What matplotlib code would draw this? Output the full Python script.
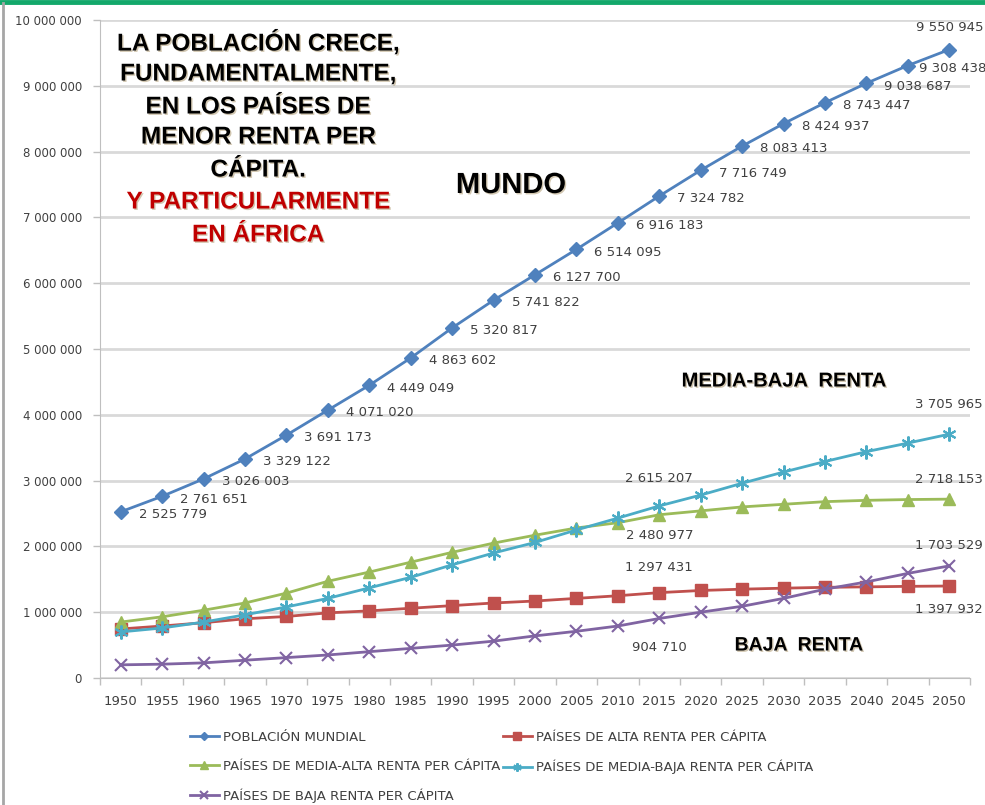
import matplotlib.pyplot as plt
import numpy as np
from matplotlib.lines import Line2D
from matplotlib import patheffects as pe

# Datos (miles de personas)
anios = ["1950", "1955", "1960", "1965", "1970", "1975", "1980", "1985", "1990", "1995", "2000",
         "2005", "2010", "2015", "2020", "2025", "2030", "2035", "2040", "2045", "2050"]
mundo = [2525779, 2761651, 3026003, 3329122, 3691173, 4071020, 4449049, 4863602, 5320817, 5741822,
         6127700, 6514095, 6916183, 7324782, 7716749, 8083413, 8424937, 8743447, 9038687, 9308438, 9550945]
alta = [745000, 790000, 840000, 900000, 935000, 990000, 1020000, 1060000, 1100000, 1140000,
        1170000, 1210000, 1250000, 1297431, 1330000, 1350000, 1365000, 1378000, 1385000, 1393000, 1397932]
media_alta = [850000, 930000, 1030000, 1140000, 1290000, 1470000, 1610000, 1760000, 1910000, 2050000,
              2170000, 2280000, 2360000, 2480977, 2540000, 2600000, 2640000, 2680000, 2700000, 2712000, 2718153]
media_baja = [700000, 760000, 850000, 960000, 1080000, 1210000, 1370000, 1530000, 1720000, 1900000,
              2060000, 2250000, 2430000, 2615207, 2780000, 2960000, 3130000, 3290000, 3440000, 3570000, 3705965]
baja = [200000, 210000, 230000, 270000, 310000, 350000, 400000, 450000, 500000, 560000,
        640000, 710000, 790000, 904710, 1000000, 1090000, 1210000, 1350000, 1460000, 1590000, 1703529]

nombres = ["POBLACIÓN MUNDIAL", "PAÍSES DE ALTA RENTA PER CÁPITA", "PAÍSES DE MEDIA-ALTA RENTA PER CÁPITA",
           "PAÍSES DE MEDIA-BAJA RENTA PER CÁPITA", "PAÍSES DE BAJA RENTA PER CÁPITA"]

fuente = ['DejaVu Sans']
gris = '#404040'

def miles(v):
    return f"{v:,.0f}".replace(",", " ")

fig = plt.figure(figsize=(9.85, 8.05), dpi=100)
ax = fig.add_axes([100/985, 1 - 678/805, 870/985, 658/805])
x = np.arange(len(anios))

l1, = ax.plot(x, mundo, color='#4F81BD', lw=2, marker='D', ms=7)
l2, = ax.plot(x, alta, color='#C0504D', lw=2, marker='s', ms=8.5)
l3, = ax.plot(x, media_alta, color='#9BBB59', lw=2, marker='^', ms=9)
l4, = ax.plot(x, media_baja, color='#4BACC6', lw=2, marker=(6, 2, 0), ms=10, mew=1.5)
l5, = ax.plot(x, baja, color='#8064A2', lw=2, marker='x', ms=9, mew=1.5)

ax.set_xlim(-0.5, len(anios) - 0.5)
ax.set_ylim(0, 10000000)
ax.set_yticks(np.arange(0, 10000001, 1000000))
ax.set_yticklabels([miles(v) for v in np.arange(0, 10000001, 1000000)], family=fuente, fontsize=8.5, color=gris)
ax.set_xticks(x)
ax.set_xticklabels(anios, family=fuente, fontsize=9.5, color=gris)
ax.set_xticks(np.arange(-0.5, len(anios), 1), minor=True)
ax.tick_params(axis='x', which='major', length=0, pad=12)
ax.tick_params(axis='x', which='minor', length=5, color='#BFBFBF', width=1)
ax.tick_params(axis='y', length=5, color='#BFBFBF', width=1, pad=8)
ax.grid(axis='y', color='#D9D9D9', lw=2)
ax.set_axisbelow(True)
for lado in ['top', 'right']:
    ax.spines[lado].set_visible(False)
ax.spines['left'].set_color('#BFBFBF')
ax.spines['bottom'].set_color('#BFBFBF')

# Etiquetas de datos de la población mundial (a la derecha, la última encima)
for i, v in enumerate(mundo):
    if i == len(mundo) - 1:
        ax.annotate(miles(v), (x[i], v), xytext=(0, 16), textcoords='offset points', ha='center', va='center',
                    family=fuente, fontsize=9.5, color=gris)
    else:
        dx = 8 if i == len(mundo) - 2 else 13
        ax.annotate(miles(v), (x[i], v), xytext=(dx, -2), textcoords='offset points', ha='left', va='center',
                    family=fuente, fontsize=9.5, color=gris)

# Etiquetas en 2015 y 2050 del resto de series
i15 = anios.index("2015")
i50 = anios.index("2050")
etiquetas = [(media_baja, i15, 19.5), (media_alta, i15, -15), (alta, i15, 18), (baja, i15, -21),
             (media_baja, i50, 21), (media_alta, i50, 14), (baja, i50, 15), (alta, i50, -17)]
for serie, i, dy in etiquetas:
    ax.annotate(miles(serie[i]), (x[i], serie[i]), xytext=(0, dy), textcoords='offset points',
                ha='center', va='center', family=fuente, fontsize=9.5, color=gris)

# Textos destacados
sombra = [pe.withSimplePatchShadow(offset=(1, -1), shadow_rgbFace='#806020', alpha=0.35)]
bloque = ["LA POBLACIÓN CRECE,", "FUNDAMENTALMENTE,", "EN LOS PAÍSES DE", "MENOR RENTA PER", "CÁPITA."]
alturas = [43, 74, 107, 137, 170]
for linea, yy in zip(bloque, alturas):
    fig.text(258/985, 1 - yy / 805, linea, ha='center', va='center', fontsize=17.5,
             fontweight='bold', family='Liberation Sans', color='black', path_effects=sombra)
for linea, yy in zip(["Y PARTICULARMENTE", "EN ÁFRICA"], [202, 235]):
    fig.text(258/985, 1 - yy / 805, linea, ha='center', va='center', fontsize=17.5,
             fontweight='bold', family='Liberation Sans', color='#C00000', path_effects=sombra)
fig.text(511/985, 1 - 185/805, "MUNDO", ha='center', va='center', fontsize=21, fontweight='bold',
         family='Liberation Sans', path_effects=sombra)
fig.text(784/985, 1 - 381/805, "MEDIA-BAJA  RENTA", ha='center', va='center', fontsize=14.5, fontweight='bold',
         family='Liberation Sans', path_effects=sombra)
fig.text(799/985, 1 - 646/805, "BAJA  RENTA", ha='center', va='center', fontsize=14, fontweight='bold',
         family='Liberation Sans', path_effects=sombra)

# Leyenda en dos columnas, ordenada por filas
leg = fig.legend([l1, l3, l5, l2, l4], [nombres[0], nombres[2], nombres[4], nombres[1], nombres[3]],
                 ncol=2, loc='upper left', bbox_to_anchor=(178/985, 1 - 719/805), frameon=False,
                 prop={'family': fuente, 'size': 9.5}, labelcolor=gris, handlelength=2.2, handletextpad=0.3,
                 columnspacing=0.2, labelspacing=1.2, markerscale=0.6)

# Marco de la figura
fig.add_artist(Line2D([0, 1], [1 - 2/805, 1 - 2/805], color='#13A86B', lw=3.5, transform=fig.transFigure))
fig.add_artist(Line2D([2.5/985, 2.5/985], [0, 1 - 3/805], color='#A6A6A6', lw=2, transform=fig.transFigure))

plt.savefig('out.png', dpi=100)
